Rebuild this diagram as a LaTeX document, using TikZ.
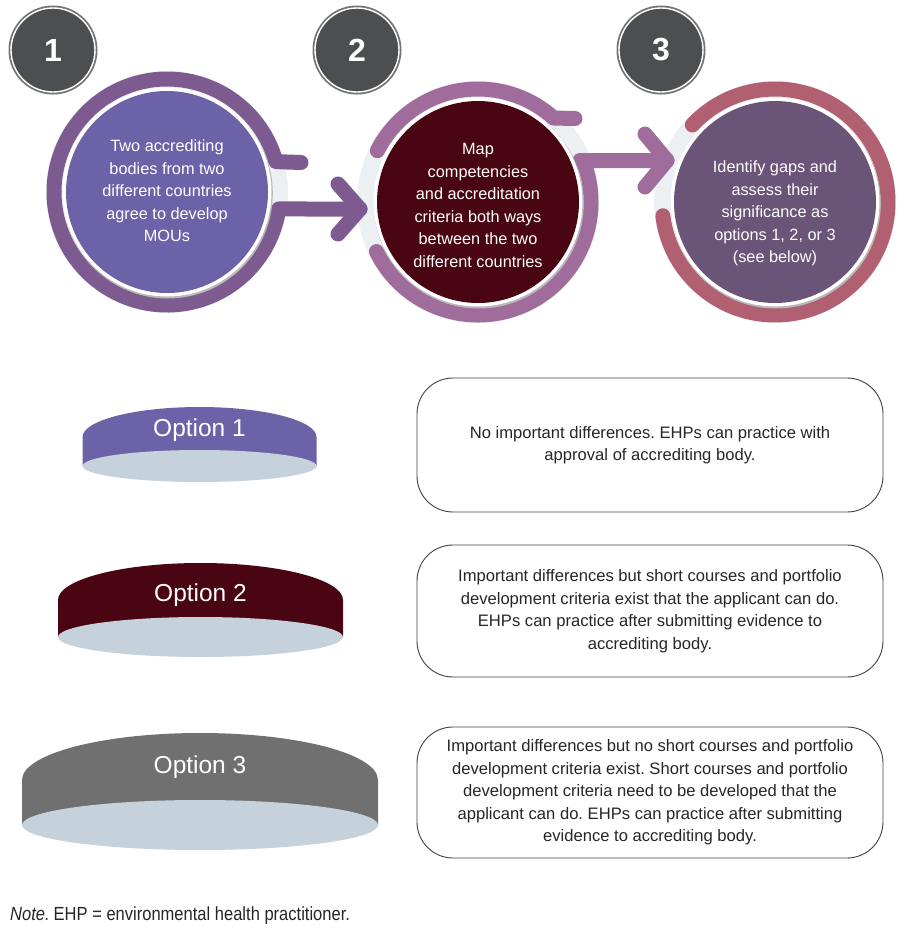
\documentclass[tikz,border=0pt]{standalone}
\usepackage{fontspec}
\setmainfont{Liberation Sans}
\newfontfamily\narrowfont[FakeStretch=0.87]{Liberation Sans}
\usetikzlibrary{calc}
\frenchspacing
\definecolor{badgegray}{HTML}{4D4E50}
\definecolor{ringA}{HTML}{7D5B90}
\definecolor{ringB}{HTML}{A06C9C}
\definecolor{ringC}{HTML}{B06070}
\definecolor{discA}{HTML}{6C62A8}
\definecolor{discB}{HTML}{4A0512}
\definecolor{discC}{HTML}{6A5478}
\definecolor{halo}{HTML}{EDF0F2}
\definecolor{cylbase}{HTML}{C5D2DC}
\definecolor{optgray}{HTML}{707071}
\definecolor{boxline}{HTML}{404040}
\definecolor{txt}{HTML}{262626}
\begin{document}
\frenchspacing
\begin{tikzpicture}[x=1pt,y=-1pt,
  ringstroke/.style={line width=15pt, line cap=round, line join=round},
  disctext/.style={text=white, align=center, font=\fontsize{16.3}{22.5}\selectfont},
  badgenode/.style={circle, fill=badgegray, draw=white, line width=1.4pt, minimum size=84pt, inner sep=0pt, text=white, font=\fontsize{32}{32}\bfseries\selectfont},
  optbox/.style={draw=boxline, line width=0.9pt, rounded corners=36pt, minimum width=466pt, inner sep=0pt, text=txt, align=center, font=\fontsize{16.6}{22.5}\selectfont},
  opttext/.style={text=white, font=\fontsize{24.5}{24.5}\selectfont}]
\useasboundingbox (0,0) rectangle (912,951);

% badges
\fill[black!55] (53,50) circle[radius=44.5];
\node[badgenode] (badge1) at (53,50) {1};
\fill[black!55] (357,50) circle[radius=44.5];
\node[badgenode] (badge2) at (357,50) {2};
\fill[black!55] (661,50) circle[radius=44.5];
\node[badgenode] (badge3) at (661,50) {3};

% centres
\coordinate (c1) at (167,192);
\coordinate (c2) at (478,202);
\coordinate (c3) at (775,202);

% halos
\fill[halo] (c1) circle[radius=121];
\fill[halo] (c2) circle[radius=121];
\fill[halo] (c3) circle[radius=121];

% ring 1 with stub and arrow to 2
\draw[ringstroke, ringA] (301,162.5) -- ($(c1)+(-15.6:113)$) arc[start angle=-15.6, end angle=-351.35, radius=113] -- (360,209);
\draw[ringstroke, ringA] (338,184) -- (360,209) -- (338,234);

% ring 2
\draw[ringstroke, ringB] ($(c2)+(-153:113)$) arc[start angle=-153, end angle=-48, radius=113] -- (575,118.5);
\draw[ringstroke, ringB] ($(c2)+(-206:113)$) arc[start angle=-206, end angle=-381.5, radius=113] -- (667,160.5);
\draw[ringstroke, ringB] (580,160.5) -- (590,160.5);
\draw[ringstroke, ringB] (645,134) -- (667,160.5) -- (645,187);

% ring 3
\draw[ringstroke, ringC] ($(c3)+(-137:113)$) arc[start angle=-137, end angle=173, radius=113];

% discs
\fill[black!28] ($(c1)+(0.8,1.5)$) circle[radius=105];
\fill[white] (c1) circle[radius=104.5];
\fill[discA] (c1) circle[radius=101];
\fill[black!28] ($(c2)+(0.8,1.5)$) circle[radius=105];
\fill[white] (c2) circle[radius=104.5];
\fill[discB] (c2) circle[radius=101];
\fill[black!28] ($(c3)+(0.8,1.5)$) circle[radius=105];
\fill[white] (c3) circle[radius=104.5];
\fill[discC] (c3) circle[radius=101];

\node[disctext] (t1) at (167,191) {Two accrediting\\bodies from two\\different countries\\agree to develop\\MOUs};
\node[disctext] (t2) at (478,205.5) {Map\\competencies\\and accreditation\\criteria both ways\\between the two\\different countries};
\node[disctext] (t3) at (775,213.5) {Identify gaps and\\assess their\\significance as\\options 1, 2, or 3\\(see below)};

% option cylinders
\fill[discA] (82.5,437) arc[start angle=180, end angle=360, x radius=117, y radius=30] -- (316.5,466) -- (82.5,466) -- cycle;
\fill[cylbase] (199.5,466) ellipse[x radius=117, y radius=16];
\node[opttext] (o1) at (199.5,430) {Option 1};

\fill[discB] (58,600) arc[start angle=180, end angle=360, x radius=142.5, y radius=37] -- (343,637) -- (58,637) -- cycle;
\fill[cylbase] (200.5,637) ellipse[x radius=142.5, y radius=20];
\node[opttext] (o2) at (200.5,595) {Option 2};

\fill[optgray] (22,780) arc[start angle=180, end angle=360, x radius=178, y radius=47] -- (378,825) -- (22,825) -- cycle;
\fill[cylbase] (200,825) ellipse[x radius=178, y radius=25];
\node[opttext] (o3) at (200,767) {Option 3};

% boxes
\node[optbox, minimum height=134pt] (box1) at (650,445) {No important differences. EHPs can practice with\\approval of accrediting body.};
\node[optbox, minimum height=132pt] (box2) at (650,611) {Important differences but short courses and portfolio\\development criteria exist that the applicant can do.\\EHPs can practice after submitting evidence to\\accrediting body.};
\node[optbox, minimum height=131pt] (box3) at (650,792.5) {Important differences but no short courses and portfolio\\development criteria exist. Short courses and portfolio\\development criteria need to be developed that the\\applicant can do. EHPs can practice after submitting\\evidence to accrediting body.};

% note
\node[anchor=base west, inner sep=0pt, text=txt, font=\narrowfont\fontsize{19}{19}\selectfont] (note) at (10,920) {\textit{Note.}\kern4pt EHP = environmental health practitioner.};
\end{tikzpicture}
\end{document}
